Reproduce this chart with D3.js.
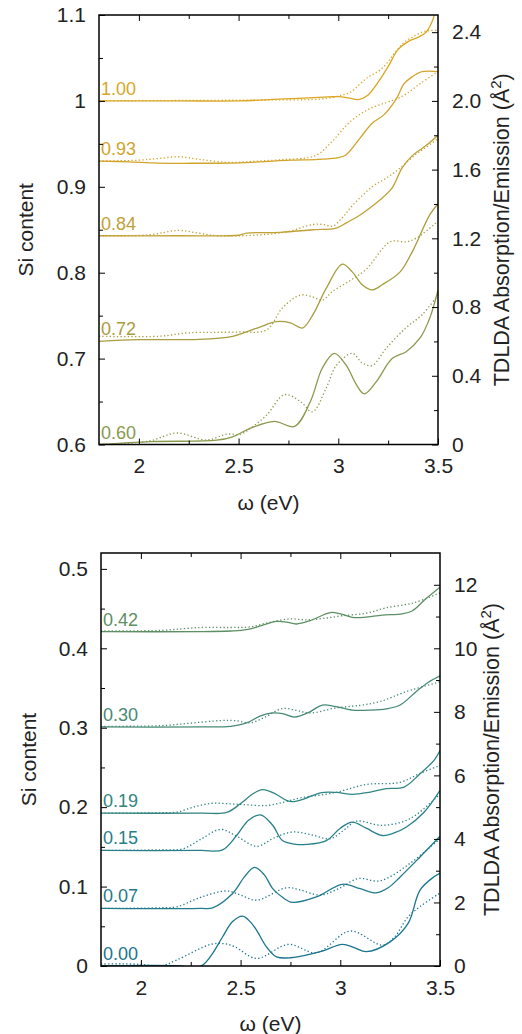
<!DOCTYPE html>
<html><head><meta charset="utf-8">
<script src="https://cdn.jsdelivr.net/npm/d3@7"></script>
<style>
html,body{margin:0;padding:0;background:#fff;}
svg{display:block;font-family:"Liberation Sans",Arial,Helvetica,sans-serif;}
</style></head>
<body>
<svg id="chart" width="522" height="1034"></svg>
<script>
// ---------------- DATA ----------------
const xTicks = [2, 2.5, 3, 3.5];
const xTickLabels = ["2", "2.5", "3", "3.5"];
const xMinorTicks = [2.25, 2.75, 3.25];

// Top panel
const topLabels = ["1.00", "0.93", "0.84", "0.72", "0.60"];
const topSi = [1.00, 0.93, 0.84, 0.72, 0.60];
const topLeftTicks = [0.6, 0.7, 0.8, 0.9, 1.0, 1.1];
const topLeftTickLabels = ["0.6", "0.7", "0.8", "0.9", "1", "1.1"];
const topRightTicks = [0, 0.4, 0.8, 1.2, 1.6, 2.0, 2.4];
const topRightTickLabels = ["0", "0.4", "0.8", "1.2", "1.6", "2.0", "2.4"];

// absorption (solid) / emission (dotted), in Å², above each curve's baseline
const abs100 = [[1.8,0],[2.2,0],[2.5,0],[2.7,0.01],[2.95,0.023],[3.0,0.025],[3.05,0.018],[3.1,0.008],[3.15,0.035],[3.2,0.11],[3.25,0.2],[3.3,0.3],[3.35,0.345],[3.4,0.37],[3.44,0.4],[3.47,0.46],[3.5,0.59]];
const ems100 = [[1.8,0],[2.3,0.003],[2.6,0.005],[2.9,0.01],[2.97,0.02],[3.02,0.035],[3.06,0.05],[3.14,0.13],[3.22,0.19],[3.29,0.29],[3.33,0.34],[3.37,0.37],[3.42,0.4],[3.46,0.41],[3.5,0.41]];
const abs093 = [[1.8,0],[1.95,-0.005],[2.1,-0.012],[2.3,-0.013],[2.45,-0.012],[2.6,-0.005],[2.76,0.005],[2.9,0.01],[3.0,0.02],[3.04,0.037],[3.11,0.135],[3.17,0.22],[3.23,0.27],[3.29,0.36],[3.33,0.45],[3.37,0.49],[3.42,0.52],[3.5,0.52]];
const ems093 = [[1.8,0],[2.0,0.005],[2.1,0.015],[2.2,0.025],[2.3,0.01],[2.45,-0.008],[2.6,0],[2.75,0.01],[2.85,0.02],[2.9,0.04],[2.97,0.115],[3.06,0.23],[3.15,0.3],[3.24,0.34],[3.29,0.36],[3.34,0.39],[3.41,0.45],[3.5,0.52]];
const abs084 = [[1.8,0.015],[2.2,0.015],[2.5,0.018],[2.54,0.03],[2.71,0.035],[2.87,0.05],[2.99,0.06],[3.04,0.09],[3.11,0.136],[3.16,0.178],[3.21,0.224],[3.27,0.294],[3.32,0.41],[3.37,0.48],[3.44,0.54],[3.5,0.6]];
const ems084 = [[1.8,0.015],[2.05,0.02],[2.2,0.046],[2.3,0.03],[2.4,0.015],[2.6,0.02],[2.75,0.04],[2.87,0.08],[2.93,0.08],[2.97,0.07],[3.02,0.12],[3.07,0.19],[3.17,0.3],[3.24,0.35],[3.31,0.41],[3.39,0.49],[3.44,0.53],[3.5,0.58]];
const abs072 = [[1.8,0],[2.0,0.01],[2.3,0.012],[2.47,0.03],[2.55,0.06],[2.61,0.085],[2.69,0.115],[2.76,0.108],[2.82,0.078],[2.87,0.15],[2.94,0.31],[3.02,0.45],[3.07,0.405],[3.12,0.33],[3.17,0.3],[3.22,0.33],[3.31,0.405],[3.37,0.52],[3.46,0.74],[3.5,0.8]];
const ems072 = [[1.8,0.03],[2.1,0.03],[2.25,0.05],[2.5,0.055],[2.64,0.067],[2.72,0.195],[2.81,0.27],[2.87,0.26],[2.92,0.24],[2.97,0.29],[3.06,0.355],[3.14,0.42],[3.26,0.58],[3.34,0.58],[3.39,0.6],[3.5,0.7]];
const abs060 = [[1.8,0],[2.06,0.017],[2.39,0.025],[2.47,0.045],[2.56,0.095],[2.68,0.135],[2.78,0.105],[2.86,0.25],[2.92,0.445],[2.98,0.53],[3.04,0.46],[3.09,0.35],[3.13,0.295],[3.19,0.365],[3.27,0.5],[3.34,0.54],[3.41,0.62],[3.46,0.74],[3.5,0.9]];
const ems060 = [[1.8,0],[2.05,0.02],[2.19,0.067],[2.34,0.026],[2.44,0.06],[2.51,0.06],[2.56,0.095],[2.64,0.17],[2.73,0.29],[2.81,0.25],[2.87,0.19],[2.94,0.33],[2.99,0.46],[3.07,0.53],[3.12,0.475],[3.17,0.46],[3.24,0.56],[3.34,0.68],[3.42,0.755],[3.5,0.87]];
const topAbs = [abs100, abs093, abs084, abs072, abs060];
const topEms = [ems100, ems093, ems084, ems072, ems060];

// Bottom panel
const bottomLabels = ["0.42", "0.30", "0.19", "0.15", "0.07", "0.00"];
const bottomSi = [0.421, 0.301, 0.1925, 0.1455, 0.0725, 0.0];
const bottomLeftTicks = [0, 0.1, 0.2, 0.3, 0.4, 0.5];
const bottomLeftTickLabels = ["0", "0.1", "0.2", "0.3", "0.4", "0.5"];
const bottomRightTicks = [0, 2, 4, 6, 8, 10, 12];
const bottomRightTickLabels = ["0", "2", "4", "6", "8", "10", "12"];

const abs042 = [[1.8,0],[2.3,0],[2.45,0.02],[2.53,0.06],[2.6,0.18],[2.68,0.32],[2.73,0.3],[2.78,0.24],[2.85,0.35],[2.95,0.6],[3.0,0.56],[3.06,0.45],[3.12,0.45],[3.21,0.52],[3.31,0.56],[3.36,0.65],[3.43,1.04],[3.5,1.4]];
const ems042 = [[1.8,0.02],[2.1,0.04],[2.3,0.13],[2.45,0.13],[2.55,0.15],[2.65,0.3],[2.75,0.4],[2.83,0.37],[2.92,0.42],[3.01,0.5],[3.13,0.58],[3.23,0.75],[3.37,0.91],[3.5,1.22]];
const abs030 = [[1.8,0],[2.3,0],[2.45,0.02],[2.53,0.125],[2.6,0.35],[2.66,0.44],[2.71,0.42],[2.77,0.31],[2.84,0.45],[2.91,0.69],[2.97,0.65],[3.06,0.53],[3.15,0.53],[3.23,0.57],[3.3,0.69],[3.38,1.11],[3.44,1.4],[3.5,1.61]];
const ems030 = [[1.8,0.02],[2.1,0.04],[2.25,0.12],[2.4,0.2],[2.47,0.2],[2.55,0.13],[2.62,0.3],[2.71,0.58],[2.78,0.52],[2.85,0.44],[2.98,0.6],[3.1,0.68],[3.2,0.8],[3.33,1.11],[3.5,1.42]];
const abs019 = [[1.8,0],[2.3,0],[2.43,0.02],[2.5,0.3],[2.56,0.6],[2.61,0.74],[2.67,0.62],[2.73,0.4],[2.76,0.36],[2.82,0.45],[2.9,0.64],[2.98,0.65],[3.06,0.59],[3.15,0.66],[3.23,0.77],[3.32,0.82],[3.4,1.24],[3.47,1.66],[3.5,1.97]];
const ems019 = [[1.8,0],[2.1,0.01],[2.18,0.03],[2.27,0.2],[2.36,0.31],[2.45,0.29],[2.51,0.27],[2.63,0.24],[2.72,0.35],[2.8,0.48],[2.97,0.64],[3.13,0.9],[3.3,0.97],[3.4,1.25],[3.5,1.5]];
const abs015 = [[1.8,0],[2.3,0],[2.41,0.02],[2.48,0.47],[2.54,0.95],[2.6,1.12],[2.66,0.8],[2.71,0.31],[2.77,0.2],[2.83,0.19],[2.93,0.31],[3.0,0.7],[3.06,0.89],[3.13,0.7],[3.21,0.47],[3.27,0.55],[3.33,0.73],[3.42,1.2],[3.5,1.89]];
const ems015 = [[1.8,0],[2.1,0.02],[2.21,0.05],[2.3,0.35],[2.4,0.66],[2.48,0.45],[2.58,0.13],[2.67,0.4],[2.76,0.58],[2.85,0.5],[2.95,0.37],[3.02,0.65],[3.08,0.92],[3.21,0.79],[3.35,1.0],[3.5,1.78]];
const abs007 = [[1.8,0],[2.3,0],[2.36,0.02],[2.46,0.47],[2.52,1.0],[2.57,1.29],[2.62,1.05],[2.66,0.63],[2.71,0.35],[2.76,0.19],[2.88,0.36],[3.01,0.76],[3.1,0.62],[3.18,0.49],[3.24,0.65],[3.3,0.99],[3.4,1.62],[3.5,2.27]];
const ems007 = [[1.8,0],[2.1,0.02],[2.18,0.05],[2.3,0.35],[2.43,0.55],[2.5,0.42],[2.58,0.26],[2.73,0.65],[2.8,0.58],[2.9,0.42],[3.0,0.65],[3.09,0.94],[3.2,0.87],[3.35,1.42],[3.5,2.2]];
const abs000 = [[1.8,0],[2.2,0],[2.26,-0.05],[2.31,0.03],[2.36,0.4],[2.41,0.92],[2.46,1.4],[2.51,1.57],[2.55,1.38],[2.58,1.13],[2.63,0.6],[2.68,0.29],[2.75,0.26],[2.9,0.45],[3.01,0.68],[3.07,0.58],[3.13,0.45],[3.25,0.76],[3.34,1.34],[3.4,2.39],[3.47,2.81],[3.5,2.92]];
const ems000 = [[1.8,0.06],[1.9,0.07],[2.0,0.05],[2.1,0],[2.18,0.19],[2.35,0.68],[2.42,0.7],[2.47,0.61],[2.58,0.24],[2.74,0.68],[2.88,0.42],[3.05,1.1],[3.21,0.66],[3.27,0.9],[3.34,1.55],[3.4,1.87],[3.5,2.3]];
const bottomAbs = [abs042, abs030, abs019, abs015, abs007, abs000];
const bottomEms = [ems042, ems030, ems019, ems015, ems007, ems000];

// ---------------- STYLE ----------------
const topColors = ["#dca624", "#d2a42b", "#bfa135", "#a89d3e", "#899a4d"];
const bottomColors = ["#5e8f63", "#478a74", "#318583", "#278089", "#1f7a8c", "#1a758f"];

const svg = d3.select("#chart");
const TXT = "#222";
const FS = 21;

function panel(cfg) {
  const x = d3.scaleLinear().domain([1.8, 3.5]).range([cfg.left, cfg.right]);
  const yL = d3.scaleLinear().domain(cfg.leftDomain).range([cfg.bottom, cfg.top]);
  const yR = d3.scaleLinear().domain(cfg.rightDomain).range([cfg.bottom, cfg.top]);
  const k = (cfg.rightDomain[1] - cfg.rightDomain[0]) / (cfg.leftDomain[1] - cfg.leftDomain[0]);
  const s0 = cfg.leftDomain[0];
  const g = svg.append("g");

  const clipId = "clip" + cfg.id;
  svg.append("defs").append("clipPath").attr("id", clipId)
    .append("rect").attr("x", cfg.left).attr("y", cfg.top)
    .attr("width", cfg.right - cfg.left).attr("height", cfg.bottom - cfg.top);

  const curves = g.append("g").attr("clip-path", `url(#${clipId})`);
  cfg.si.forEach((s, i) => {
    const off = (s - s0) * k;
    const line = d3.line().x(d => x(d[0])).y(d => yR(off + d[1])).curve(d3.curveCatmullRom.alpha(0.5));
    curves.append("path").attr("d", line(cfg.ems[i])).attr("fill", "none")
      .attr("stroke", cfg.colors[i]).attr("stroke-width", 1.3).attr("stroke-dasharray", "1.3,2.3");
    curves.append("path").attr("d", line(cfg.abs[i])).attr("fill", "none")
      .attr("stroke", cfg.colors[i]).attr("stroke-width", 1.3);
    g.append("text").attr("x", cfg.left + 2).attr("y", yR(off + cfg.abs[i][0][1]) - 6)
      .attr("fill", cfg.colors[i]).attr("font-size", 18).text(cfg.labels[i]);
  });

  // axes (inward ticks)
  const fmt = arr => (d, i) => arr[i];
  const lStep = cfg.leftTicks[1] - cfg.leftTicks[0];
  g.append("g").attr("transform", `translate(${cfg.left},0)`)
    .call(d3.axisLeft(yL).tickValues(cfg.leftTicks).tickFormat(fmt(cfg.leftTickLabels)).tickSize(-6).tickPadding(13));
  const lMinor = [];
  for (let v = cfg.leftTicks[0] + lStep / 2; v < cfg.leftDomain[1]; v += lStep) lMinor.push(v);
  g.append("g").attr("transform", `translate(${cfg.left},0)`)
    .call(d3.axisLeft(yL).tickValues(lMinor).tickFormat("").tickSize(-4));

  g.append("g").attr("transform", `translate(${cfg.right},0)`)
    .call(d3.axisRight(yR).tickValues(cfg.rightTicks).tickFormat(fmt(cfg.rightTickLabels)).tickSize(-6).tickPadding(14));
  const rStep = cfg.rightTicks[1] - cfg.rightTicks[0];
  const rMinor = [];
  for (let v = cfg.rightTicks[0] + rStep / 2; v < cfg.rightDomain[1]; v += rStep) rMinor.push(v);
  g.append("g").attr("transform", `translate(${cfg.right},0)`)
    .call(d3.axisRight(yR).tickValues(rMinor).tickFormat("").tickSize(-4));

  g.append("g").attr("transform", `translate(0,${cfg.bottom})`)
    .call(d3.axisBottom(x).tickValues(xTicks).tickFormat(fmt(xTickLabels)).tickSize(-6).tickPadding(14));
  g.append("g").attr("transform", `translate(0,${cfg.bottom})`)
    .call(d3.axisBottom(x).tickValues(xMinorTicks).tickFormat("").tickSize(-4));
  g.append("g").attr("transform", `translate(0,${cfg.top})`)
    .call(d3.axisTop(x).tickValues(xTicks.slice(0, 3)).tickFormat("").tickSize(-6));
  g.append("g").attr("transform", `translate(0,${cfg.top})`)
    .call(d3.axisTop(x).tickValues(xMinorTicks).tickFormat("").tickSize(-4));

  g.selectAll(".domain").remove();
  g.selectAll(".tick line").attr("stroke", "#000").attr("stroke-width", 1);
  g.selectAll(".tick text").attr("font-size", FS).attr("fill", TXT).attr("font-family", null);

  g.append("rect").attr("x", cfg.left).attr("y", cfg.top)
    .attr("width", cfg.right - cfg.left).attr("height", cfg.bottom - cfg.top)
    .attr("fill", "none").attr("stroke", "#000").attr("stroke-width", 1.5);

  // titles
  const midY = (cfg.top + cfg.bottom) / 2;
  g.append("text").attr("transform", `translate(${cfg.leftTitleX},${midY}) rotate(-90)`)
    .attr("text-anchor", "middle").attr("font-size", FS).attr("fill", TXT).text("Si content");
  const rt = g.append("text").attr("transform", `translate(${cfg.rightTitleX},${midY}) rotate(-90)`)
    .attr("text-anchor", "middle").attr("font-size", FS + 0.5).attr("fill", TXT);
  rt.append("tspan").text("TDLDA Absorption/Emission (Å");
  rt.append("tspan").attr("dy", -8).attr("font-size", 15).text("2");
  rt.append("tspan").attr("dy", 8).text(")");
  g.append("text").attr("x", (cfg.left + cfg.right) / 2).attr("y", cfg.bottom + 65)
    .attr("text-anchor", "middle").attr("font-size", FS).attr("fill", TXT).text("ω (eV)");
}

panel({id: "t", left: 99, right: 438, top: 15, bottom: 444.5,
  leftDomain: [0.6, 1.1], rightDomain: [0, 2.5],
  leftTicks: topLeftTicks, leftTickLabels: topLeftTickLabels,
  rightTicks: topRightTicks, rightTickLabels: topRightTickLabels,
  si: topSi, labels: topLabels, abs: topAbs, ems: topEms, colors: topColors,
  leftTitleX: 33, rightTitleX: 509});

panel({id: "b", left: 101, right: 440, top: 553, bottom: 966,
  leftDomain: [0, 0.52], rightDomain: [0, 13],
  leftTicks: bottomLeftTicks, leftTickLabels: bottomLeftTickLabels,
  rightTicks: bottomRightTicks, rightTickLabels: bottomRightTickLabels,
  si: bottomSi, labels: bottomLabels, abs: bottomAbs, ems: bottomEms, colors: bottomColors,
  leftTitleX: 36, rightTitleX: 499});
</script>
</body></html>
